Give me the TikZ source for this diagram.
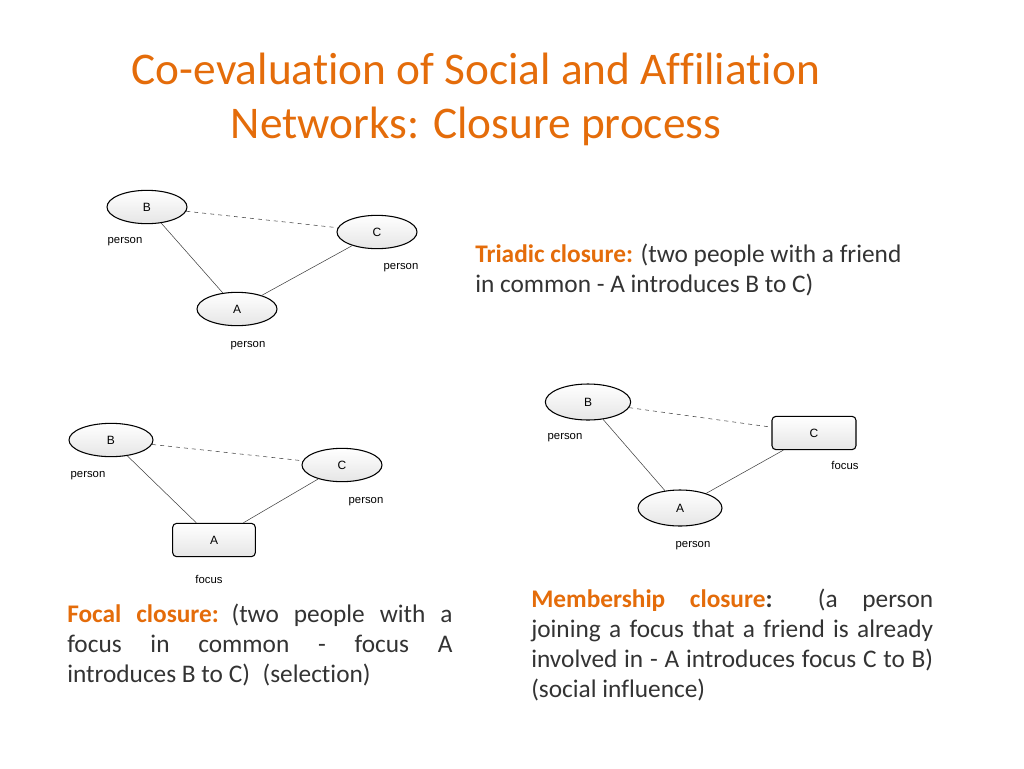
\documentclass[tikz,border=0pt]{standalone}
\usepackage{fontspec}
\setmainfont[Ligatures=NoCommon]{Carlito}
\newfontfamily\diag{Liberation Sans}
\usetikzlibrary{shapes.geometric}
\definecolor{org}{HTML}{E46C0A}
\hyphenpenalty=10000
\begin{document}
\begin{tikzpicture}[x=0.75pt,y=-0.75pt,
 el/.style={ellipse,draw,thick,minimum width=60,minimum height=25,top color=white,bottom color=gray!20,inner sep=0,font=\diag\fontsize{9}{10}\selectfont},
 rb/.style={rounded corners=3pt,draw,thick,minimum width=62,minimum height=25,top color=white,bottom color=gray!20,inner sep=0,font=\diag\fontsize{9}{10}\selectfont},
 lab/.style={font=\diag\fontsize{8.5}{10}\selectfont,inner sep=0},
 ed/.style={draw,gray!50!black},
 dd/.style={draw,dashed,gray!50!black},
 txt/.style={inner sep=0,anchor=north west,align=justify,font=\fontsize{19}{22.5}\selectfont,text=black!80}]
\useasboundingbox (0,0) rectangle (1024,768);
\node[font=\fontsize{34}{40.5}\selectfont,text=org,align=center] (title) at (476,99) {Co-evaluation of Social and Affiliation\\Networks: Closure process};
% triadic
\node[el] (b1) at (147,207) {B};
\node[el] (c1) at (377,232) {C};
\node[el] (a1) at (237,309) {A};
\draw[dd] (b1) -- (c1); \draw[ed] (b1) -- (a1); \draw[ed] (c1) -- (a1);
\node[lab] (pb1) at (125,242) {person};
\node[lab] (pc1) at (401,268) {person};
\node[lab] (pa1) at (248,346) {person};
\node[txt,align=left] (t1) at (475,244) {\textcolor{org}{\textbf{Triadic closure:}} (two people with a friend\\in common - A introduces B to C)};
% focal
\node[el,minimum width=63] (b2) at (111,440) {B};
\node[el] (c2) at (342,465) {C};
\node[rb] (a2) at (214,540) {A};
\draw[dd] (b2) -- (c2); \draw[ed] (b2) -- (a2); \draw[ed] (c2) -- (a2);
\node[lab] (pb2) at (88,476) {person};
\node[lab] (pc2) at (366,502) {person};
\node[lab] (fa2) at (209,579) {focus};
\node[txt,text width=289] (t2) at (67,604) {\textcolor{org}{\textbf{Focal closure:}}\enspace(two people with a\linebreak focus in common - focus A\linebreak introduces B to C)\enspace(selection)};
% membership
\node[el,minimum width=64,minimum height=27] (b3) at (588,402) {B};
\node[rb,minimum width=63] (c3) at (814,433) {C};
\node[el,minimum width=63,minimum height=27] (a3) at (680,508) {A};
\draw[dd] (b3) -- (c3); \draw[ed] (b3) -- (a3); \draw[ed] (c3) -- (a3);
\node[lab] (pb3) at (565,438) {person};
\node[lab] (fc3) at (845,465) {focus};
\node[lab] (pa3) at (693,546) {person};
\node[txt,text width=301.5] (t3) at (531,589) {\textcolor{org}{\textbf{Membership closure}}\textbf{:} (a person\linebreak joining a focus that a friend is already\linebreak involved in - A introduces focus C to B)\linebreak (social influence)};
\end{tikzpicture}
\end{document}
